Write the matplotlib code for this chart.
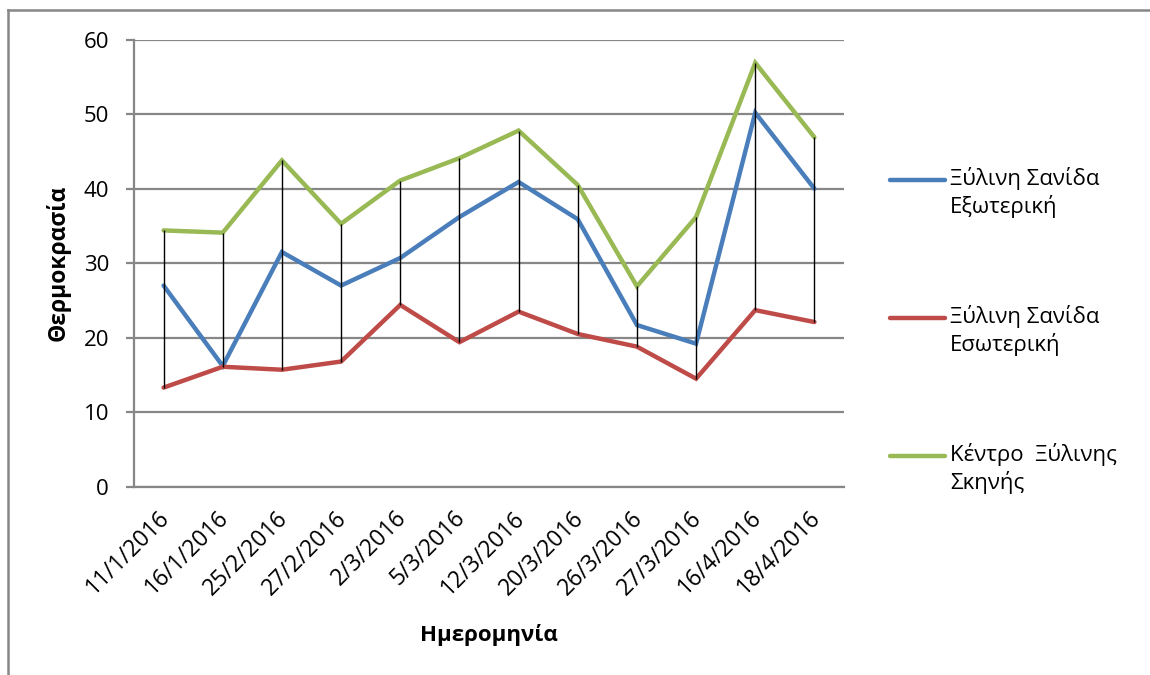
import numpy as np
import matplotlib
matplotlib.use("Agg")
import matplotlib.pyplot as plt
import matplotlib.transforms as mtransforms
from matplotlib.lines import Line2D

plt.rcParams['font.family'] = ['Open Sans', 'DejaVu Sans']

dates = ['11/1/2016', '16/1/2016', '25/2/2016', '27/2/2016', '2/3/2016', '5/3/2016',
         '12/3/2016', '20/3/2016', '26/3/2016', '27/3/2016', '16/4/2016', '18/4/2016']
outer = [27.0, 16.2, 31.5, 27.0, 30.7, 36.2, 40.9, 35.9, 21.7, 19.2, 50.2, 40.0]
inner = [13.3, 16.1, 15.7, 16.8, 24.4, 19.4, 23.5, 20.5, 18.8, 14.5, 23.7, 22.1]
center = [34.4, 34.1, 43.8, 35.3, 41.1, 44.1, 47.8, 40.5, 26.9, 36.2, 56.9, 46.9]

names = ['Ξύλινη Σανίδα\nΕξωτερική', 'Ξύλινη Σανίδα\nΕσωτερική', 'Κέντρο  Ξύλινης\nΣκηνής']
colors = ['#4A7EBB', '#BE4B48', '#98B954']
grey = '#878787'

W, H = 1150, 675
fig = plt.figure(figsize=(W / 100, H / 100), dpi=100)
ax = fig.add_axes([134 / W, 1 - 486.7 / H, (844 - 134) / W, (486.7 - 39.7) / H])

x = np.arange(len(dates))
series = [outer, inner, center]
for vals, c in zip(series, colors):
    ax.plot(x, vals, color=c, lw=3.2, solid_capstyle='round', solid_joinstyle='miter', zorder=3)

# high-low lines across the three series
stack = np.array(series)
ax.vlines(x, stack.min(axis=0), stack.max(axis=0), color='black', lw=1.0, zorder=4)

ax.set_xlim(-0.5, len(dates) - 0.5)
ax.set_ylim(0, 60)
ax.set_yticks(range(0, 61, 10))
ax.yaxis.grid(True, color=grey, lw=1.6)
ax.set_axisbelow(True)
for s in ['top', 'right']:
    ax.spines[s].set_visible(False)
for s in ['left', 'bottom']:
    ax.spines[s].set_color(grey)
    ax.spines[s].set_linewidth(1.6)
ax.tick_params(axis='y', length=6, width=1.6, color=grey, pad=12, labelsize=16)
ax.tick_params(axis='x', length=0, pad=14, labelsize=16.5)
ax.set_xticks(x)
ax.set_xticklabels(dates, rotation=45, ha='right', va='top', rotation_mode='anchor')
shift = mtransforms.ScaledTranslation(-6 / 100, 0, fig.dpi_scale_trans)
for lab in ax.get_xticklabels():
    lab.set_transform(lab.get_transform() + shift)

ax.set_ylabel('Θερμοκρασία', fontsize=16.5, fontweight='bold', va='center')
ax.yaxis.set_label_coords((58 - 134) / 710, 0.5)
ax.set_xlabel('Ημερομηνία', fontsize=16, fontweight='bold', va='center')
ax.xaxis.set_label_coords(0.5, (486.7 - 635) / 447)

# legend on the right, handle level with the first text line
for i, (name, c) in enumerate(zip(names, colors)):
    yl = 1 - (180 + i * 138) / H
    fig.add_artist(Line2D([890 / W, 945 / W], [yl, yl], color=c, lw=3.2,
                          solid_capstyle='round', transform=fig.transFigure))
    fig.text(950 / W, yl + 13 / H, name, fontsize=16, va='top', ha='left',
             linespacing=1.3, transform=fig.transFigure)

# chart area frame
fig.add_artist(Line2D([8 / W, 1], [1 - 10 / H, 1 - 10 / H], color=grey, lw=1.8,
                      transform=fig.transFigure))
fig.add_artist(Line2D([8 / W, 8 / W], [0, 1 - 10 / H], color=grey, lw=1.8,
                      transform=fig.transFigure))

fig.savefig('out.png', dpi=100)
